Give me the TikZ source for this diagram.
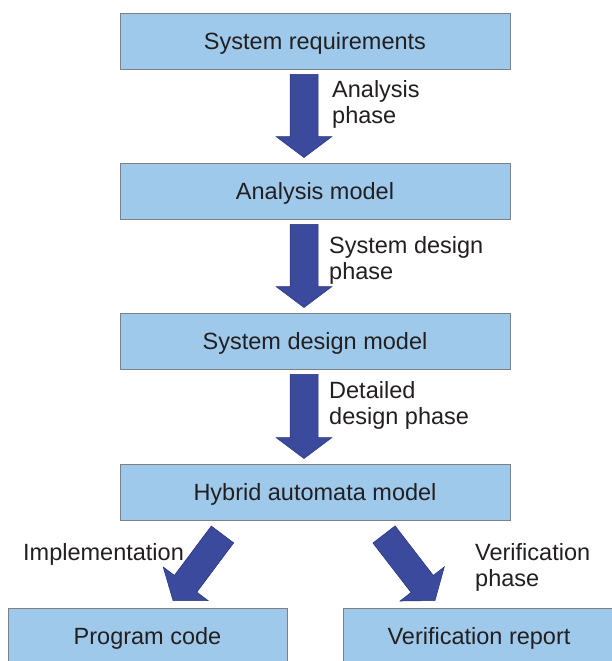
\documentclass[tikz,border=0pt]{standalone}
\usepackage{fontspec}
\setmainfont{Liberation Sans}
\usetikzlibrary{calc}
\definecolor{boxfill}{RGB}{158,201,235}
\definecolor{boxline}{RGB}{128,128,128}
\definecolor{arrfill}{RGB}{60,74,158}
\definecolor{arrline}{RGB}{40,50,120}
\definecolor{txt}{RGB}{35,31,32}
\newcommand\blockarrow[2]{%
  \coordinate (tmpB) at ($(#2)!21pt!(#1)$);
  \draw[barrow] ($(#1)!14pt!90:(#2)$) -- ($(tmpB)!14pt!90:(#2)$) -- ($(tmpB)!28pt!90:(#2)$) -- (#2)
    -- ($(tmpB)!28pt!-90:(#2)$) -- ($(tmpB)!14pt!-90:(#2)$) -- ($(#1)!14pt!-90:(#2)$) -- cycle;}
\begin{document}
\begin{tikzpicture}[x=1pt,y=-1pt,
  box/.style={draw=boxline, line width=0.9pt, fill=boxfill, inner sep=0pt,
    minimum height=56pt, text height=17pt, text depth=0pt,
    font=\fontsize{23.5}{26.5}\selectfont, text=txt},
  lbl/.style={inner sep=0pt, anchor=base west, font=\fontsize{23.5}{26.5}\selectfont, text=txt},
  barrow/.style={fill=arrfill, draw=arrline, line width=0.5pt, line join=miter}]
\path[use as bounding box, clip] (0,0) rectangle (612,661);
\fill[white] (0,0) rectangle (612,661);
\node[box, minimum width=390pt] (r1) at (315,41) {System requirements};
\node[box, minimum width=390pt] (r2) at (315,191) {Analysis model};
\node[box, minimum width=390pt] (r3) at (315,341) {System design model};
\node[box, minimum width=390pt] (r4) at (315,492) {Hybrid automata model};
\node[box, minimum width=279pt] (r5) at (147.5,636) {Program code};
\node[box, minimum width=272pt] (r6) at (479,636) {Verification report};
\coordinate (a1s) at ($(r1.south)+(-11,5)$);
\coordinate (a1e) at ($(r2.north)+(-11,-5)$);
\coordinate (a2s) at ($(r2.south)+(-11,5)$);
\coordinate (a2e) at ($(r3.north)+(-11,-5)$);
\coordinate (a3s) at ($(r3.south)+(-11,5)$);
\coordinate (a3e) at ($(r4.north)+(-11,-5)$);
\coordinate (a4s) at ($(r4.south)+(-92.5,14)$);
\coordinate (a4e) at ($(r5.north)+(25.5,-7)$);
\coordinate (a5s) at ($(r4.south)+(69,14)$);
\coordinate (a5e) at ($(r6.north)+(-44,-7)$);
\blockarrow{a1s}{a1e}
\blockarrow{a2s}{a2e}
\blockarrow{a3s}{a3e}
\blockarrow{a4s}{a4e}
\blockarrow{a5s}{a5e}
\node[lbl] (l1) at (332,97) {\begin{tabular}[t]{@{}l@{}}Analysis\\phase\end{tabular}};
\node[lbl] (l2) at (329,253) {\begin{tabular}[t]{@{}l@{}}System design\\phase\end{tabular}};
\node[lbl] (l3) at (329,398) {\begin{tabular}[t]{@{}l@{}}Detailed\\design phase\end{tabular}};
\node[lbl] (l4) at (23,560) {Implementation};
\node[lbl] (l5) at (475,560) {\begin{tabular}[t]{@{}l@{}}Verification\\phase\end{tabular}};
\end{tikzpicture}
\end{document}
